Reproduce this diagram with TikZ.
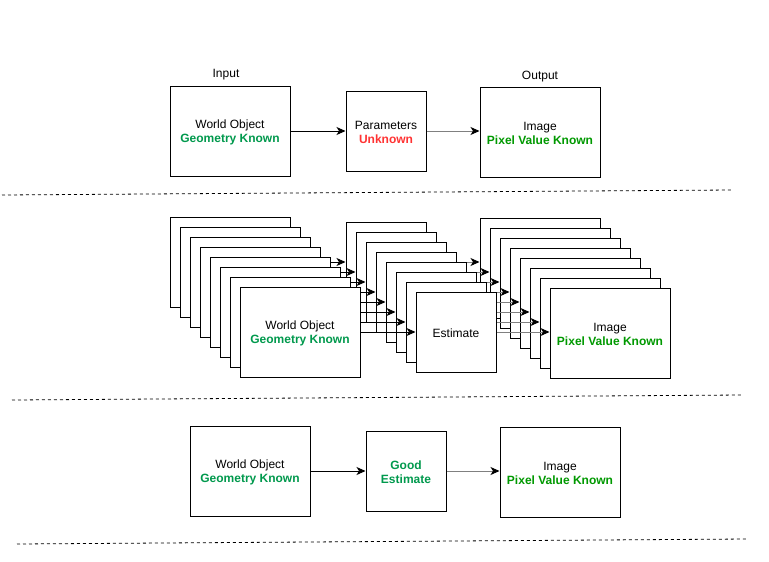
\documentclass[tikz,border=0pt]{standalone}
\usepackage{fontspec}
\setmainfont{Liberation Sans}
\usetikzlibrary{arrows.meta}
\definecolor{geogreen}{RGB}{0,153,77}
\definecolor{pixgreen}{RGB}{0,153,0}
\definecolor{unkred}{RGB}{255,51,51}
\definecolor{linkgrey}{RGB}{128,128,128}
\newcommand{\geoknown}{\textbf{\color{geogreen}Geometry Known}}
\newcommand{\pixknown}{\textbf{\color{pixgreen}Pixel Value Known}}

\begin{document}
\begin{tikzpicture}[x=1pt,y=-1pt,line width=1pt,
    font=\fontsize{12}{14}\selectfont,
    bigbox/.style={draw,fill=white,minimum width=120pt,minimum height=90pt,align=center,inner sep=0pt},
    smallbox/.style={draw,fill=white,minimum width=80pt,minimum height=80pt,align=center,inner sep=0pt},
    boxtext/.style={align=center,inner sep=0pt,yshift=-1pt},
    link/.style={-{Stealth[length=9pt,width=8pt,inset=2.5pt]}},
    greylink/.style={draw=linkgrey,-{Stealth[length=9pt,width=8pt,inset=2.5pt,color=black]}},
    sep/.style={line width=0.8pt,dash pattern=on 3pt off 3pt}]
    \useasboundingbox (0,0) rectangle (769,562);

    \node[bigbox] (obj) at (230,131) {};
    \node[boxtext] (objlab) at (obj) {World Object\\\geoknown};
    \node[smallbox] (param) at (386,131) {};
    \node[boxtext] (paramlab) at (param) {Parameters\\\textbf{\color{unkred}Unknown}};
    \node[bigbox] (img) at (540,132) {};
    \node[boxtext] (imglab) at (img) {Image\\\pixknown};
    \node (input) at (226,75) {Input};
    \node (output) at (540,77) {Output};
    \draw[link] (obj) -- (param);
    \draw[greylink] (param.east) -- (param.east -| img.west);

    \draw[sep] (2,195) -- (732,190);

    \foreach \i in {0,...,7}{
        \node[bigbox] (w\i) at (230+10*\i,262+10*\i) {};
        \node[smallbox] (e\i) at (386+10*\i,262+10*\i) {};
        \node[bigbox] (m\i) at (540+10*\i,263+10*\i) {};
        \draw[link] (w\i) -- (e\i);
        \draw[greylink] (e\i.east) -- (e\i.east -| m\i.west);
    }
    \node[boxtext] (wlab) at (w7) {World Object\\\geoknown};
    \node[boxtext] (elab) at (e7) {Estimate};
    \node[boxtext] (mlab) at (m7) {Image\\\pixknown};

    \draw[sep] (12,400) -- (742,395);

    \node[bigbox] (obj3) at (250,471) {};
    \node[boxtext] (obj3lab) at (obj3) {World Object\\\geoknown};
    \node[smallbox] (good) at (406,471) {};
    \node[boxtext] (goodlab) at (good) {\textbf{\color{geogreen}Good}\\\textbf{\color{geogreen}Estimate}};
    \node[bigbox] (img3) at (560,472) {};
    \node[boxtext] (img3lab) at (img3) {Image\\\pixknown};
    \draw[link] (obj3) -- (good);
    \draw[greylink] (good.east) -- (good.east -| img3.west);

    \draw[sep] (17,544) -- (747,539);
\end{tikzpicture}
\end{document}
